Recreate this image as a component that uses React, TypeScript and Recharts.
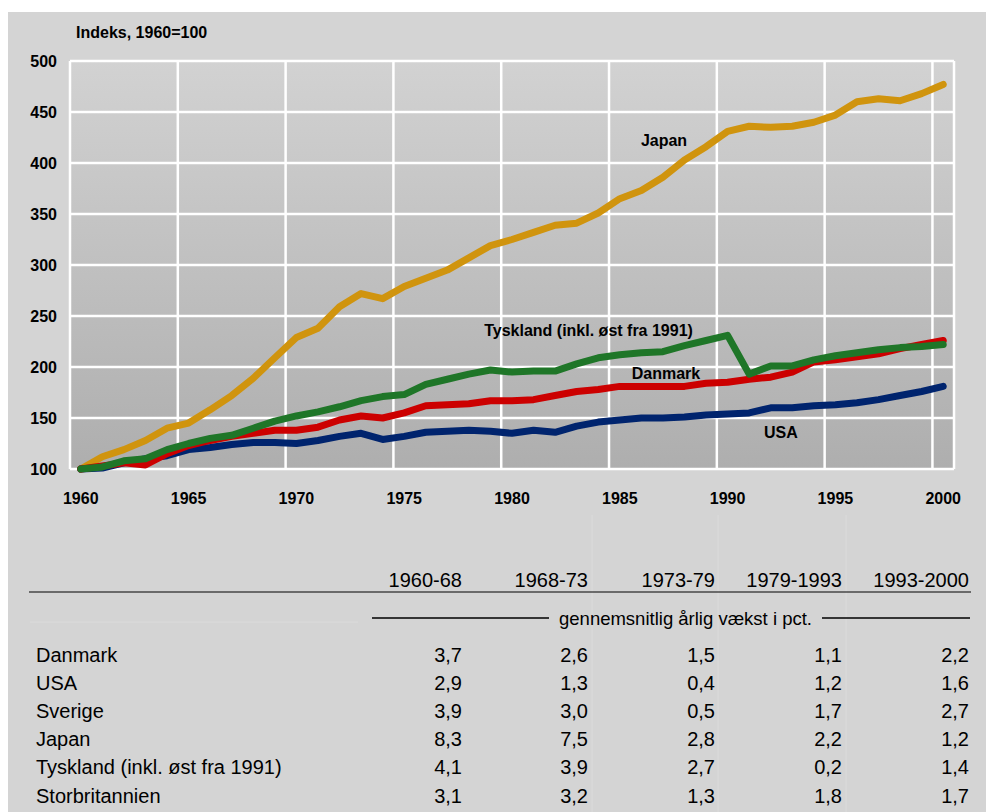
import { LineChart, Line, XAxis, YAxis, CartesianGrid, ReferenceDot } from "recharts";

const years = [
  1960, 1961, 1962, 1963, 1964, 1965, 1966, 1967, 1968, 1969,
  1970, 1971, 1972, 1973, 1974, 1975, 1976, 1977, 1978, 1979,
  1980, 1981, 1982, 1983, 1984, 1985, 1986, 1987, 1988, 1989,
  1990, 1991, 1992, 1993, 1994, 1995, 1996, 1997, 1998, 1999,
  2000,
];

// index, 1960 = 100
const japan = [
  100, 112, 119, 128, 140, 145, 158, 172, 189, 209,
  229, 238, 259, 272, 267, 279, 287, 295, 307, 319,
  325, 332, 339, 341, 351, 365, 373, 386, 403, 416,
  431, 436, 435, 436, 440, 447, 460, 463, 461, 468,
  477,
];
const usa = [
  100, 101, 106, 110, 113, 119, 121, 124, 126, 126,
  125, 128, 132, 135, 129, 132, 136, 137, 138, 137,
  135, 138, 136, 142, 146, 148, 150, 150, 151, 153,
  154, 155, 160, 160, 162, 163, 165, 168, 172, 176,
  181,
];
const danmark = [
  100, 103, 106, 104, 115, 123, 128, 132, 135, 138,
  138, 141, 148, 152, 150, 155, 162, 163, 164, 167,
  167, 168, 172, 176, 178, 181, 181, 181, 181, 184,
  185, 188, 190, 195, 205, 207, 210, 213, 218, 222,
  226,
];
const tyskland = [
  100, 102, 108, 110, 119, 125, 130, 133, 140, 147,
  152, 156, 161, 167, 171, 173, 183, 188, 193, 197,
  195, 196, 196, 203, 209, 212, 214, 215, 221, 226,
  231, 193, 201, 201, 207, 211, 214, 217, 219, 220,
  222,
];

const xTicks = [1960, 1965, 1970, 1975, 1980, 1985, 1990, 1995, 2000];
const yTicks = [100, 150, 200, 250, 300, 350, 400, 450, 500];
// vertical gridlines sit between categories
const gridYears = [1959.5, 1964.5, 1969.5, 1974.5, 1979.5, 1984.5, 1989.5, 1994.5, 1999.5];

const lineLabels = [
  { text: "Japan", year: 1987.05, value: 422.5 },
  { text: "Tyskland (inkl. øst fra 1991)", year: 1983.55, value: 236.3 },
  { text: "Danmark", year: 1987.14, value: 194 },
  { text: "USA", year: 1992.47, value: 136.3 },
];

const periods = ["1960-68", "1968-73", "1973-79", "1979-1993", "1993-2000"];
const countries = [
  "Danmark",
  "USA",
  "Sverige",
  "Japan",
  "Tyskland (inkl. øst fra 1991)",
  "Storbritannien",
];
const growth = [
  ["3,7", "2,6", "1,5", "1,1", "2,2"],
  ["2,9", "1,3", "0,4", "1,2", "1,6"],
  ["3,9", "3,0", "0,5", "1,7", "2,7"],
  ["8,3", "7,5", "2,8", "2,2", "1,2"],
  ["4,1", "3,9", "2,7", "0,2", "1,4"],
  ["3,1", "3,2", "1,3", "1,8", "1,7"],
];

const rows = years.map((year, i) => ({
  year,
  japan: japan[i],
  usa: usa[i],
  danmark: danmark[i],
  tyskland: tyskland[i],
}));

const FONT = '"Liberation Sans", Arial, sans-serif';
const colRight = [454, 580, 707, 834, 961];
const rowBase0 = 649.5;
const rowStep = 28.2;

function Table() {
  return (
    <svg width={978} height={800} style={{ position: "absolute", left: 0, top: 0 }}>
      {/* faint cell borders */}
      {[584, 710, 838].map((x) => (
        <line key={x} x1={x} x2={x} y1={503} y2={800} stroke="#dbdbdb" strokeWidth={1} />
      ))}
      <line x1={22} x2={350} y1={610} y2={610} stroke="#dbdbdb" strokeWidth={1} />

      <text x={68} y={26.3} fontSize={16} fontWeight={700} fill="#000">Indeks, 1960=100</text>

      {periods.map((p, i) => (
        <text key={p} x={colRight[i]} y={574.7} fontSize={20} textAnchor="end" fill="#000">
          {p}
        </text>
      ))}
      <line x1={21} x2={963} y1={580} y2={580} stroke="#000" strokeWidth={1.2} />

      <line x1={364} x2={541} y1={606} y2={606} stroke="#000" strokeWidth={1.5} />
      <text x={677.5} y={612.5} fontSize={18.5} textAnchor="middle" fill="#000">
        gennemsnitlig årlig vækst i pct.
      </text>
      <line x1={814} x2={962} y1={606} y2={606} stroke="#000" strokeWidth={1.5} />

      {countries.map((c, r) => (
        <g key={c}>
          <text x={28} y={rowBase0 + r * rowStep} fontSize={20} fill="#000">{c}</text>
          {growth[r].map((v, k) => (
            <text key={k} x={colRight[k]} y={rowBase0 + r * rowStep} fontSize={20} textAnchor="end" fill="#000">
              {v}
            </text>
          ))}
        </g>
      ))}
    </svg>
  );
}

export default function App() {
  const tickStyle = { fill: "#000", fontSize: 16, fontWeight: 700 };
  return (
    <div
      style={{
        position: "absolute",
        left: 8,
        top: 12,
        width: 978,
        height: 800,
        background: "#d4d4d4",
        fontFamily: FONT,
        overflow: "hidden",
      }}
    >
      <Table />
      <div style={{ position: "absolute", left: 0, top: 0 }}>
        <LineChart
          width={978}
          height={520}
          data={rows}
          margin={{ top: 49, right: 32, bottom: 23, left: 20 }}
        >
          <defs>
            <linearGradient id="plotBg" x1="0" y1="0" x2="0" y2="1">
              <stop offset="0" stopColor="#d2d2d2" />
              <stop offset="1" stopColor="#aeaeae" />
            </linearGradient>
          </defs>
          <XAxis
            dataKey="year"
            type="number"
            domain={[1959.5, 2000.5]}
            ticks={xTicks}
            interval={0}
            axisLine={false}
            tickLine={false}
            tickSize={0}
            tickMargin={24}
            height={40}
            tick={tickStyle}
          />
          <XAxis
            xAxisId="grid"
            dataKey="year"
            type="number"
            domain={[1959.5, 2000.5]}
            ticks={gridYears}
            interval={0}
            hide
          />
          <YAxis
            domain={[100, 500]}
            ticks={yTicks}
            interval={0}
            axisLine={false}
            tickLine={false}
            tickSize={0}
            tickMargin={13}
            width={42}
            tick={tickStyle}
          />
          <CartesianGrid
            xAxisId="grid"
            stroke="#ffffff"
            strokeWidth={2.5}
            fill="url(#plotBg)"
            fillOpacity={1}
          />
          <Line dataKey="japan" stroke="#d0940e" strokeWidth={7} dot={false} strokeLinecap="round" strokeLinejoin="round" isAnimationActive={false} />
          <Line dataKey="usa" stroke="#00246e" strokeWidth={7} dot={false} strokeLinecap="round" strokeLinejoin="round" isAnimationActive={false} />
          <Line dataKey="danmark" stroke="#cc0000" strokeWidth={7} dot={false} strokeLinecap="round" strokeLinejoin="round" isAnimationActive={false} />
          <Line dataKey="tyskland" stroke="#1f7628" strokeWidth={7} dot={false} strokeLinecap="round" strokeLinejoin="round" isAnimationActive={false} />
          {lineLabels.map((l) => (
            <ReferenceDot
              key={l.text}
              x={l.year}
              y={l.value}
              r={0}
              fill="none"
              stroke="none"
              label={{ value: l.text, position: "center", fill: "#000", fontSize: 16, fontWeight: 700 }}
            />
          ))}
        </LineChart>
      </div>
    </div>
  );
}
